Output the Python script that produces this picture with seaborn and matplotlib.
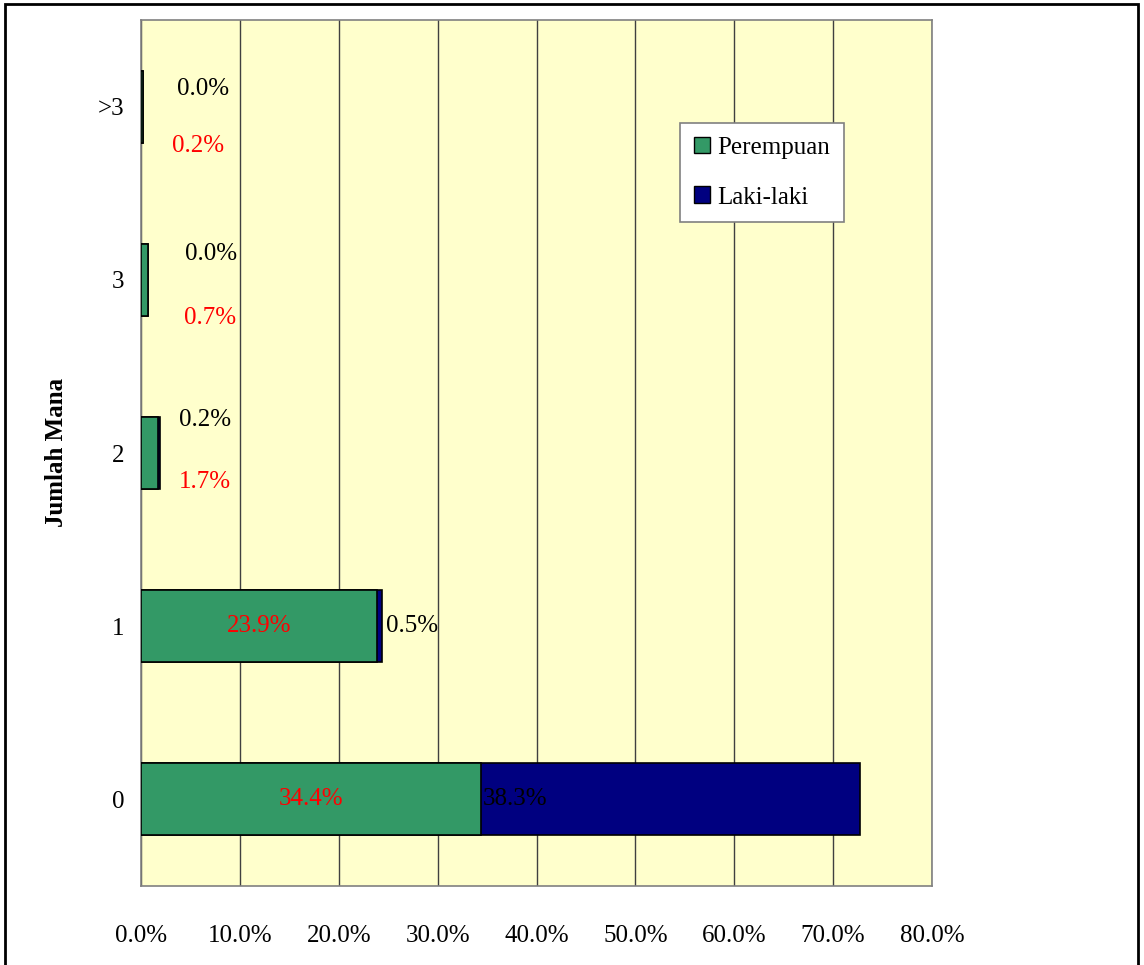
import matplotlib
matplotlib.use("Agg")
import matplotlib.pyplot as plt
import matplotlib.patches as mpatches
import numpy as np
import pandas as pd
import seaborn as sns

# data (percent), top to bottom as drawn
CATEGORIES = [">3", "3", "2", "1", "0"]
PEREMPUAN = [0.2, 0.7, 1.7, 23.9, 34.4]
LAKI_LAKI = [0.0, 0.0, 0.2, 0.5, 38.3]
X_TICKS = [0, 10, 20, 30, 40, 50, 60, 70, 80]

COLOR_P = "#339966"
COLOR_L = "#000080"
COLOR_BG = "#FFFFCC"
FS = 18

sns.set_style("white")
plt.rcParams["font.family"] = ["Liberation Serif", "DejaVu Serif"]
plt.rcParams["text.color"] = "black"
plt.rcParams["xtick.labelcolor"] = "black"
plt.rcParams["ytick.labelcolor"] = "black"

df = pd.DataFrame({
    "kategori": CATEGORIES,
    "Perempuan": PEREMPUAN,
    "Laki-laki": LAKI_LAKI,
})
df["total"] = df["Perempuan"] + df["Laki-laki"]

fig = plt.figure(figsize=(11.44, 9.65), dpi=100)
ax = fig.add_axes([141 / 1144, 79 / 965, 791 / 1144, 866 / 965])
ax.set_facecolor(COLOR_BG)

# stacked bars: total in navy, then perempuan on top
sns.barplot(data=df, x="total", y="kategori", order=CATEGORIES, color=COLOR_L,
            orient="h", width=0.415, edgecolor="black", linewidth=1.2,
            saturation=1, ax=ax, zorder=3)
sns.barplot(data=df, x="Perempuan", y="kategori", order=CATEGORIES, color=COLOR_P,
            orient="h", width=0.415, edgecolor="black", linewidth=1.2,
            saturation=1, ax=ax, zorder=3)

ax.set_xlim(0, 80)
ax.set_ylim(len(CATEGORIES) - 0.5, -0.5)
ax.set_xticks(X_TICKS)
ax.set_xticklabels([f"{v:.1f}%" for v in X_TICKS], fontsize=FS, color="black")
ax.xaxis.grid(True, color="#404040", linewidth=1, zorder=1)
ax.set_axisbelow(True)

# y ticks: labels at centres, tick marks at boundaries
ax.set_yticks(range(len(CATEGORIES)))
ax.set_yticklabels(CATEGORIES, fontsize=FS, color="black")
ax.tick_params(axis="y", length=0, pad=12)
ax.set_yticks(np.arange(-0.5, len(CATEGORIES)), minor=True)
ax.tick_params(axis="y", which="minor", length=8, color="#808080", width=1)
ax.tick_params(axis="x", length=8, color="#808080", width=1, pad=20)

for s in ax.spines.values():
    s.set_color("#808080")
    s.set_linewidth(1.2)

ax.set_xlabel("")
ax.set_ylabel("")
fig.text(57 / 1144, 1 - 452 / 965, "Jumlah Mana", rotation=90, ha="center",
         va="center", fontsize=FS, fontweight="bold", color="black")

# value labels
for i, row in df.iterrows():
    p, l = row["Perempuan"], row["Laki-laki"]
    if row["kategori"] == "0":
        ax.text(p / 2, i, f"{p:.1f}%", color="red", ha="center", va="center", fontsize=FS, zorder=5)
        ax.text(p + 0.2, i, f"{l:.1f}%", color="black", ha="left", va="center", fontsize=FS, zorder=5)
    elif row["kategori"] == "1":
        ax.text(p / 2, i, f"{p:.1f}%", color="red", ha="center", va="center", fontsize=FS, zorder=5)
        ax.text(p + l + 0.4, i, f"{l:.1f}%", color="black", ha="left", va="center", fontsize=FS, zorder=5)

# small categories: labels stacked beside the bars
small = {">3": (3.6, -0.10, 3.1, 0.23),
         "3": (4.5, -0.15, 4.3, 0.22),
         "2": (3.8, -0.19, 3.8, 0.17)}
for i, row in df.iterrows():
    if row["kategori"] in small:
        xl, dl, xp, dp = small[row["kategori"]]
        ax.text(xl, i + dl, f"{row['Laki-laki']:.1f}%", color="black", ha="left",
                va="center", fontsize=FS, zorder=5)
        ax.text(xp, i + dp, f"{row['Perempuan']:.1f}%", color="red", ha="left",
                va="center", fontsize=FS, zorder=5)

handles = [mpatches.Patch(facecolor=COLOR_P, edgecolor="black", label="Perempuan"),
           mpatches.Patch(facecolor=COLOR_L, edgecolor="black", label="Laki-laki")]
leg = ax.legend(handles=handles, loc="upper left",
                bbox_to_anchor=((680 - 141) / 791, (886 - 123) / 866),
                fontsize=FS, frameon=True, fancybox=False, framealpha=1,
                edgecolor="#808080", handlelength=0.65, handleheight=0.65,
                handletextpad=0.3, labelspacing=1.1, borderpad=0.55,
                borderaxespad=0, labelcolor="black")
leg.get_frame().set_linewidth(1.2)

# outer frame of the chart
fig.add_artist(mpatches.Rectangle((5 / 1144, -0.05), 1133 / 1144, 1.05 - 4 / 965,
                                  transform=fig.transFigure, fill=False,
                                  edgecolor="black", linewidth=2))

fig.savefig("out.png", dpi=100)
